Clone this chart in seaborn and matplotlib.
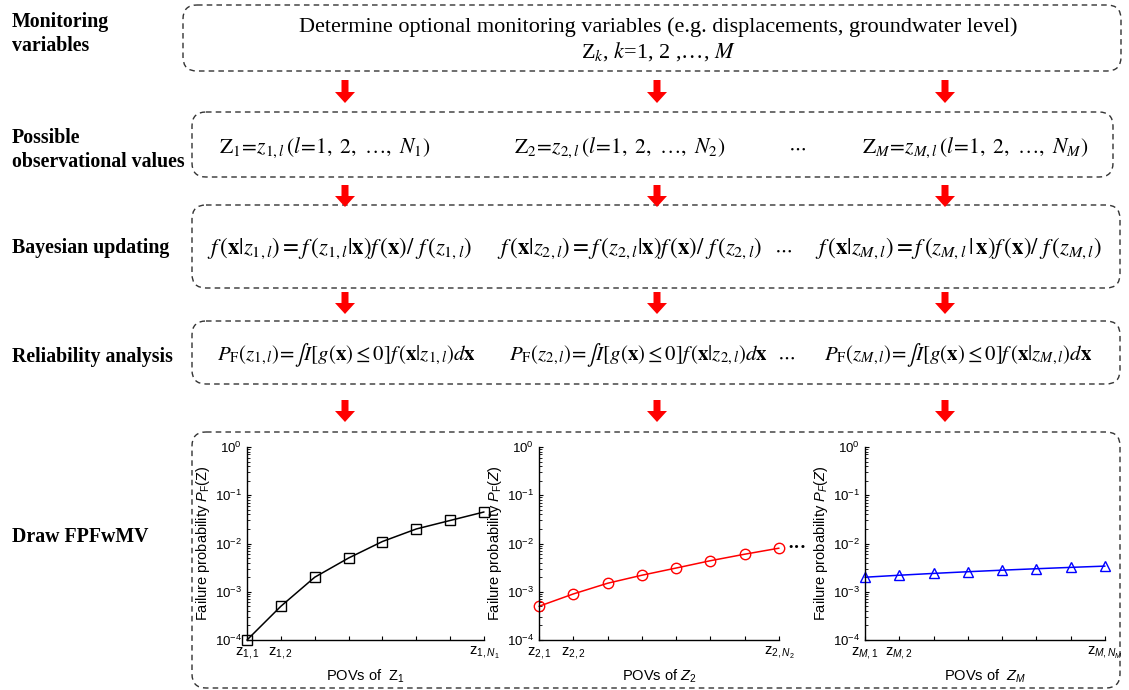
import matplotlib
matplotlib.use('Agg')
import matplotlib.pyplot as plt
import seaborn as sns
from matplotlib.patches import FancyBboxPatch, FancyArrow

sns.set_style('ticks')
plt.rcParams['font.family'] = ['Liberation Sans', 'DejaVu Sans']
plt.rcParams['mathtext.fontset'] = 'custom'
plt.rcParams['mathtext.rm'] = 'Liberation Sans'
plt.rcParams['mathtext.it'] = 'Liberation Sans:italic'
plt.rcParams['mathtext.bf'] = 'Liberation Sans:bold'
for k in ('text.color', 'axes.labelcolor', 'xtick.color', 'ytick.color', 'axes.edgecolor'):
    plt.rcParams[k] = 'black'

# Possible observational values (index of POV) and failure probabilities
pov_idx = [1, 2, 3, 4, 5, 6, 7, 8]
pf_z1 = [1.0e-4, 5.0e-4, 2.0e-3, 5.0e-3, 1.1e-2, 2.0e-2, 3.0e-2, 4.5e-2]
pf_z2 = [5.0e-4, 9.0e-4, 1.5e-3, 2.2e-3, 3.1e-3, 4.4e-3, 6.0e-3, 8.0e-3]
pf_zm = [2.0e-3, 2.2e-3, 2.4e-3, 2.6e-3, 2.8e-3, 3.0e-3, 3.2e-3, 3.4e-3]

xticks_z1 = ['z$_{1,1}$', 'z$_{1,2}$', '', '', '', '', '', 'z$_{1,N_1}$']
xticks_z2 = ['z$_{2,1}$', 'z$_{2,2}$', '', '', '', '', '', 'z$_{2,N_2}$']
xticks_zm = ['z$_{M,1}$', 'z$_{M,2}$', '', '', '', '', '', 'z$_{M,N_M}$']

stage_labels = ['Monitoring\nvariables', 'Possible\nobservational values',
                'Bayesian updating', 'Reliability analysis', 'Draw FPFwMV']

W, H = 1129, 690
fig = plt.figure(figsize=(W / 100, H / 100), dpi=100)

# overlay in pixel coordinates for the flowchart
bg = fig.add_axes([0, 0, 1, 1])
bg.set_xlim(0, W)
bg.set_ylim(H, 0)
bg.axis('off')

serif = ['Liberation Serif', 'DejaVu Serif']


def box(x0, y0, x1, y1):
    p = FancyBboxPatch((x0, y0), x1 - x0, y1 - y0,
                       boxstyle='round,pad=0,rounding_size=14',
                       fill=False, ec='#333333', lw=1.0, ls=(0, (4, 3)))
    bg.add_patch(p)


def arrow(x, y0, y1):
    bg.add_patch(FancyArrow(x, y0, 0, y1 - y0, width=7, head_width=20,
                            head_length=11, length_includes_head=True,
                            color='red', lw=0))


box(183, 5, 1121, 71)
box(192, 112, 1113, 177)
box(192, 205, 1120, 288)
box(192, 321, 1120, 384)
box(192, 432, 1120, 688)

for yy in [(80, 103), (185, 207), (292, 314), (400, 422)]:
    for xx in (345, 657, 945):
        arrow(xx, *yy)

label_y = [34, 150, 248, 357, 537]
for lab, yy in zip(stage_labels, label_y):
    bg.text(12, yy, lab, family=serif, weight='bold', fontsize=14.3,
            ha='left', va='center', linespacing=1.25)

bg.text(658, 27, 'Determine optional monitoring variables (e.g. displacements, groundwater level)',
        family=serif, fontsize=16, ha='center', va='center')
bg.text(658, 52, r'Z$_k$, $k$=1, 2 ,…, $M$', family=serif, fontsize=16,
        ha='center', va='center', math_fontfamily='stix')

# possible observational values
pov_txt = [r'$\mathrm{Z}_1\!=\!z_{1,l}\,(l\!=\!1,\ 2,\ \ldots,\ N_1)$',
           r'$\mathrm{Z}_2\!=\!z_{2,l}\,(l\!=\!1,\ 2,\ \ldots,\ N_2)$',
           r'$\mathrm{Z}_M\!=\!z_{M,l}\,(l\!=\!1,\ 2,\ \ldots,\ N_M)$']
for t, xx in zip(pov_txt, (325, 620, 975)):
    bg.text(xx, 148, t, fontsize=15.5, ha='center', va='center', math_fontfamily='stix')
bg.text(797, 148, r'$\cdots$', fontsize=14, ha='center', va='center', math_fontfamily='stix')

# Bayesian updating
bay_txt = [r'$f\,(\mathbf{x}|z_{1,l}) = f\,(z_{1,l}|\mathbf{x})f\,(\mathbf{x})/\ f\,(z_{1,l})$',
           r'$f\,(\mathbf{x}|z_{2,l}) = f\,(z_{2,l}|\mathbf{x})f\,(\mathbf{x})/\ f\,(z_{2,l})$',
           r'$f\,(\mathbf{x}|z_{M,l}) = f\,(z_{M,l}\,|\,\mathbf{x})f\,(\mathbf{x})/\ f\,(z_{M,l})$']
for t, xx in zip(bay_txt, (340, 630, 958)):
    bg.text(xx, 248, t, fontsize=16.5, ha='center', va='center', math_fontfamily='stix')
bg.text(783, 250, r'$\cdots$', fontsize=14, ha='center', va='center', math_fontfamily='stix')

# reliability analysis
rel_txt = [r'$P_{\mathrm{F}}(z_{1,l})\!=\!\int I\left[g(\mathbf{x})\leq 0\right]f\,(\mathbf{x}|z_{1,l})d\mathbf{x}$',
           r'$P_{\mathrm{F}}(z_{2,l})\!=\!\int I\left[g(\mathbf{x})\leq 0\right]f\,(\mathbf{x}|z_{2,l})d\mathbf{x}$',
           r'$P_{\mathrm{F}}(z_{M,l})\!=\!\int I\left[g(\mathbf{x})\leq 0\right]f\,(\mathbf{x}|z_{M,l})d\mathbf{x}$']
for t, xx in zip(rel_txt, (346, 638, 958)):
    bg.text(xx, 355, t, fontsize=15, ha='center', va='center', math_fontfamily='stix')
bg.text(786, 357, r'$\cdots$', fontsize=14, ha='center', va='center', math_fontfamily='stix')

bg.text(797, 549, '···', family=serif, weight='bold', fontsize=14, ha='center', va='center')

# three FPFwMV plots
panels = [
    (247, 484, pf_z1, 'black', 's', xticks_z1, 'POVs of  Z$_1$', 'Failure probability $P_{\\mathrm{F}}$(Z)'),
    (539, 779, pf_z2, 'red', 'o', xticks_z2, 'POVs of $Z_2$', 'Failure probability $P_{\\mathrm{F}}$($Z$)'),
    (865, 1105, pf_zm, 'blue', '^', xticks_zm, 'POVs of  $Z_M$', 'Failure probability $P_{F}$($Z$)'),
]
ax_top, ax_bot = 447, 640
for x0, x1, vals, col, mk, xtl, xl, yl in panels:
    ax = fig.add_axes([x0 / W, (H - ax_bot) / H, (x1 - x0) / W, (ax_bot - ax_top) / H])
    sns.lineplot(x=pov_idx, y=vals, ax=ax, color=col, lw=1.1, marker=mk, markersize=7.5,
                 markerfacecolor='none', markeredgecolor=col, markeredgewidth=1.0,
                 clip_on=False)
    ax.set_yscale('log')
    ax.set_ylim(1e-4, 1)
    ax.set_xlim(1, 8)
    ax.set_xticks(pov_idx)
    ax.set_xticklabels(xtl)
    ax.set_yticks([1e-4, 1e-3, 1e-2, 1e-1, 1])
    ax.tick_params(direction='in', labelsize=9.5, length=3, width=0.8, colors='black')
    ax.tick_params(axis='x', labelsize=10.5)
    ax.tick_params(which='minor', direction='in', length=2, width=0.6)
    ax.set_xlabel(xl, fontsize=10.5, labelpad=5)
    ax.set_ylabel(yl, fontsize=10.5, labelpad=2)
    ax.set_facecolor('none')
    sns.despine(ax=ax)
    for s in ('left', 'bottom'):
        ax.spines[s].set_linewidth(1.0)
        ax.spines[s].set_color('black')

fig.savefig('out.png', dpi=100)
